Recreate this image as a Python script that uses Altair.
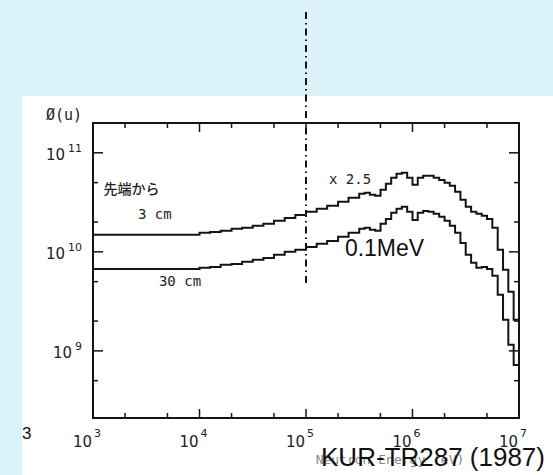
import altair as alt
import pandas as pd

# Neutron spectrum phi(u) per unit lethargy, two positions from the tip
# energy group lower bounds (eV); the last entry closes the final group
energy = [1.0e3, 3.16e3,
          1.0e4, 1.26e4, 1.58e4, 2.0e4, 2.51e4, 3.16e4, 3.98e4, 5.01e4, 6.31e4, 7.94e4,
          1.0e5, 1.26e5, 1.58e5, 2.0e5, 2.51e5,
          3.16e5, 3.55e5, 3.98e5, 4.47e5, 5.01e5, 5.62e5, 6.31e5, 7.08e5, 7.94e5, 8.91e5,
          1.0e6, 1.12e6, 1.26e6, 1.41e6, 1.58e6, 1.78e6, 2.0e6, 2.24e6, 2.51e6, 2.82e6,
          3.16e6, 3.55e6, 3.98e6, 4.47e6, 5.01e6, 5.62e6, 6.31e6, 7.08e6, 7.94e6, 8.91e6,
          1.0e7]

# 3 cm from the tip (already multiplied by 2.5)
phi_3cm = [1.49e10, 1.49e10,
           1.56e10, 1.59e10, 1.63e10, 1.71e10, 1.75e10, 1.83e10, 1.92e10, 2.06e10, 2.20e10, 2.36e10,
           2.54e10, 2.72e10, 2.92e10, 3.20e10, 3.51e10,
           3.86e10, 3.95e10, 3.77e10, 3.68e10, 4.23e10, 4.86e10, 5.59e10, 6.14e10, 6.28e10, 5.59e10,
           4.75e10, 5.59e10, 5.86e10, 5.86e10, 5.59e10, 5.33e10, 4.98e10, 4.65e10, 4.04e10, 3.35e10,
           2.85e10, 2.54e10, 2.42e10, 2.31e10, 2.15e10, 1.75e10, 1.05e10, 6.58e9, 3.95e9, 2.06e9,
           1.45e9]

# 30 cm from the tip
phi_30cm = [6.73e9, 6.73e9,
            6.89e9, 7.05e9, 7.39e9, 7.56e9, 7.92e9, 8.30e9, 8.69e9, 9.33e9, 1.00e10, 1.05e10,
            1.12e10, 1.21e10, 1.29e10, 1.42e10, 1.56e10,
            1.71e10, 1.75e10, 1.67e10, 1.63e10, 1.92e10, 2.15e10, 2.48e10, 2.72e10, 2.85e10, 2.54e10,
            2.10e10, 2.48e10, 2.59e10, 2.54e10, 2.42e10, 2.26e10, 2.06e10, 1.83e10, 1.56e10, 1.23e10,
            9.33e9, 7.74e9, 6.89e9, 7.05e9, 6.73e9, 5.73e9, 3.68e9, 2.06e9, 1.15e9, 7.22e8,
            5.33e8]

x_major = [1e3, 1e4, 1e5, 1e6, 1e7]
x_exponents = ["3", "4", "5", "6", "7"]
x_minor = [2e3, 5e3, 2e4, 5e4, 2e5, 5e5, 2e6, 5e6]
y_major = [1e9, 1e10, 1e11]
y_exponents = ["9", "10", "11"]
y_minor = [5e8, 2e9, 5e9, 2e10, 5e10]

# in-plot annotations placed in data coordinates
label_jp = ["先端から"]
label_jp_e = [2.3e3]
label_jp_phi = [4.2e10]
label_mono = ["3  cm", "30  cm", "x 2.5"]
label_mono_e = [3.8e3, 6.56e3, 2.59e5]
label_mono_phi = [2.37e10, 4.98e9, 5.33e10]

cut_energy = [1e5]          # 0.1 MeV marker
cut_label = ["0.1MeV"]
cut_label_e = [5.46e5]
cut_label_phi = [1.06e10]

W, H = 426, 295
INK = "#141414"
TXT = "#222222"

xs = alt.Scale(type="log", domain=[1e3, 1e7], nice=False)
ys = alt.Scale(type="log", domain=[2.1e8, 2.0e11], nice=False)

spectra = pd.DataFrame({
    "E": energy * 2,
    "phi": phi_3cm + phi_30cm,
    "pos": ["3 cm"] * len(energy) + ["30 cm"] * len(energy),
})
one = pd.DataFrame({"k": [0]})

sheet = alt.Chart(one).mark_rect(color="white").encode(
    x=alt.value(-71), x2=alt.value(460), y=alt.value(-27), y2=alt.value(352))

frame = alt.Chart(one).mark_rect(filled=False, stroke=INK, strokeWidth=2).encode(
    x=alt.value(0), x2=alt.value(W), y=alt.value(0), y2=alt.value(H))

lines = alt.Chart(spectra).mark_line(interpolate="step-after", color=INK, strokeWidth=2).encode(
    x=alt.X("E:Q", scale=xs, axis=None),
    y=alt.Y("phi:Q", scale=ys, axis=None),
    detail="pos:N",
)


def xticks(vals, length):
    d = pd.DataFrame({"E": vals})
    bottom = alt.Chart(d).mark_rule(color=INK, strokeWidth=1.5).encode(
        x=alt.X("E:Q", scale=xs, axis=None), y=alt.value(H), y2=alt.value(H - length))
    top = alt.Chart(d).mark_rule(color=INK, strokeWidth=1.5).encode(
        x=alt.X("E:Q", scale=xs, axis=None), y=alt.value(0), y2=alt.value(length))
    return [bottom, top]


def yticks(vals, length):
    d = pd.DataFrame({"phi": vals})
    left = alt.Chart(d).mark_rule(color=INK, strokeWidth=1.5).encode(
        y=alt.Y("phi:Q", scale=ys, axis=None), x=alt.value(0), x2=alt.value(length))
    right = alt.Chart(d).mark_rule(color=INK, strokeWidth=1.5).encode(
        y=alt.Y("phi:Q", scale=ys, axis=None), x=alt.value(W), x2=alt.value(W - length))
    return [left, right]


ticks = xticks(x_major, 9) + xticks(x_minor, 5) + yticks(y_major, 10) + yticks(y_minor, 5)

# tick labels as "10" with a raised exponent
xlab_df = pd.DataFrame({"E": x_major, "p": x_exponents})
xlab_base = alt.Chart(xlab_df).mark_text(
    text="10", font="DejaVu Sans", fontSize=15, color=TXT, align="right", baseline="alphabetic", dx=-1
).encode(x=alt.X("E:Q", scale=xs, axis=None), y=alt.value(H + 29))
xlab_exp = alt.Chart(xlab_df).mark_text(
    font="DejaVu Sans", fontSize=11, color=TXT, align="left", baseline="alphabetic", dx=1
).encode(x=alt.X("E:Q", scale=xs, axis=None), y=alt.value(H + 19), text="p:N")

ylab_df = pd.DataFrame({"phi": y_major, "p": y_exponents})
ylab_exp = alt.Chart(ylab_df).mark_text(
    font="DejaVu Sans", fontSize=11, color=TXT, align="right", baseline="alphabetic", dy=-1
).encode(y=alt.Y("phi:Q", scale=ys, axis=None), x=alt.value(-11), text="p:N")
ylab_base = alt.Chart(ylab_df).transform_calculate(
    bx="-14 - 7 * length(datum.p)"
).mark_text(
    text="10", font="DejaVu Sans", fontSize=15, color=TXT, align="right", baseline="alphabetic", dy=7
).encode(y=alt.Y("phi:Q", scale=ys, axis=None), x=alt.X("bx:Q", scale=None, axis=None))

ytitle = alt.Chart(one).mark_text(
    text="Ø(u)", font="DejaVu Sans Mono", fontSize=15, color=TXT, align="center", baseline="middle"
).encode(x=alt.value(-29), y=alt.value(-8))

notes_jp = alt.Chart(pd.DataFrame({"E": label_jp_e, "phi": label_jp_phi, "t": label_jp})).mark_text(
    font="Noto Sans CJK JP", fontSize=14, fontWeight=500, color=TXT, align="center", baseline="middle"
).encode(x=alt.X("E:Q", scale=xs, axis=None), y=alt.Y("phi:Q", scale=ys, axis=None), text="t:N")

notes_mono = alt.Chart(pd.DataFrame({"E": label_mono_e, "phi": label_mono_phi, "t": label_mono})).mark_text(
    font="DejaVu Sans Mono", fontSize=14, color=TXT, align="center", baseline="middle"
).encode(x=alt.X("E:Q", scale=xs, axis=None), y=alt.Y("phi:Q", scale=ys, axis=None), text="t:N")

cut = alt.Chart(pd.DataFrame({"E": cut_energy})).mark_rule(
    color=INK, strokeWidth=2, strokeDash=[7, 4, 1.5, 4]
).encode(x=alt.X("E:Q", scale=xs, axis=None), y=alt.value(-111), y2=alt.value(160))

cut_text = alt.Chart(pd.DataFrame({"E": cut_label_e, "phi": cut_label_phi, "t": cut_label})).mark_text(
    font="Liberation Sans", fontSize=23, color="#111", align="center", baseline="middle"
).encode(x=alt.X("E:Q", scale=xs, axis=None), y=alt.Y("phi:Q", scale=ys, axis=None), text="t:N")

xtitle = alt.Chart(one).mark_text(
    text="Neutron Energy (eV)", font="DejaVu Sans Mono", fontSize=13, color="#8a8a8a",
    align="center", baseline="middle"
).encode(x=alt.value(297), y=alt.value(337))

source = alt.Chart(one).mark_text(
    text="KUR-TR287 (1987)", font="Liberation Sans", fontSize=26, color="#111",
    align="center", baseline="alphabetic"
).encode(x=alt.value(340), y=alt.value(343))

stray = alt.Chart(one).mark_text(
    text="3", font="Liberation Sans", fontSize=17, color="#111", align="left", baseline="middle"
).encode(x=alt.value(-71), y=alt.value(311))

chart = alt.layer(
    sheet, lines, *ticks, frame, xlab_base, xlab_exp, ylab_base, ylab_exp, ytitle,
    notes_jp, notes_mono, cut, cut_text, xtitle, source, stray
).properties(
    width=W, height=H,
    autosize=alt.AutoSizeParams(type="none"),
    padding={"left": 93, "top": 123, "right": 34, "bottom": 57},
    background="#DBF3F8",
).configure_view(stroke=None)

chart.save("out.html", embed_options={"renderer": "svg", "actions": False})
